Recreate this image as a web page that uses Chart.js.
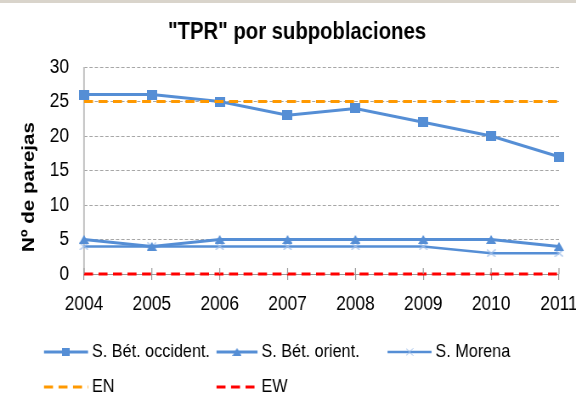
<!DOCTYPE html>
<html>
<head>
<meta charset="utf-8">
<script src="https://cdn.jsdelivr.net/npm/chart.js@4.4.1/dist/chart.umd.min.js"></script>
<style>
html,body{margin:0;padding:0;background:#fff;overflow:hidden;}
#wrap{width:576px;height:403px;position:relative;overflow:hidden;}
#c{width:576px !important;height:403px !important;display:block;}
</style>
</head>
<body>
<div id="wrap"><canvas id="c" width="678" height="403"></canvas></div>
<script>
// ---- data ----
const years = ['2004','2005','2006','2007','2008','2009','2010','2011'];
const betOccident = [26, 26, 25, 23, 24, 22, 20, 17];
const betOrient   = [5, 4, 5, 5, 5, 5, 5, 4];
const sMorena     = [4, 4, 4, 4, 4, 4, 3, 3];
const enLevel     = [25, 25, 25, 25, 25, 25, 25, 25];
const ewLevel     = [0, 0, 0, 0, 0, 0, 0, 0];
const seriesNames = ['S. Bét. occident.', 'S. Bét. orient.', 'S. Morena', 'EN', 'EW'];
const yTicks = [0, 5, 10, 15, 20, 25, 30];
const chartTitle = '"TPR" por subpoblaciones';
const yTitle = 'Nº de parejas';

// The reference's lettering is horizontally condensed: the canvas is drawn 678 wide and shown at 576.
const CW = 678;
const K = 576 / CW;
const X = v => v / K;   // reference px -> canvas units (horizontal only)

const mctx = document.createElement('canvas').getContext('2d');
function textW(font, s) { mctx.font = font; return mctx.measureText(s).width; }
const FAM = "'Liberation Sans', Arial, sans-serif";
function fitSize(weight, text, target) {
  return +(100 * target / textW(weight + ' 100px ' + FAM, text)).toFixed(2);
}
const tickSize = fitSize('normal', '2004', X(38.5));
const legendSize = fitSize('normal', 'S. Bét. occident.', X(118));
const titleSize = fitSize('bold', chartTitle, X(258));
const yTitleSize = fitSize('bold', yTitle, 130);

const BLUE = '#558ED5';
const LIGHTBLUE = '#9CBCE8';

function markerCanvas(w, h, draw) {
  const c = document.createElement('canvas');
  c.width = Math.round(X(w)); c.height = h;
  const g = c.getContext('2d');
  draw(g, c.width, c.height);
  return c;
}
const squareImg = markerCanvas(10, 10, (g, w, h) => { g.fillStyle = BLUE; g.fillRect(0, 0, w, h); });
const triImg = markerCanvas(10, 9, (g, w, h) => {
  g.fillStyle = BLUE; g.beginPath(); g.moveTo(w / 2, 0); g.lineTo(w, h); g.lineTo(0, h); g.closePath(); g.fill();
});
const crossImg = markerCanvas(9, 8, (g, w, h) => {
  g.strokeStyle = LIGHTBLUE; g.lineWidth = 1.2; g.beginPath();
  g.moveTo(0.5, 0.5); g.lineTo(w - 0.5, h - 0.5); g.moveTo(w - 0.5, 0.5); g.lineTo(0.5, h - 0.5); g.stroke();
});
const legSquare = markerCanvas(8, 8, (g, w, h) => { g.fillStyle = BLUE; g.fillRect(0, 0, w, h); });
const legTri = markerCanvas(9, 8, (g, w, h) => {
  g.fillStyle = BLUE; g.beginPath(); g.moveTo(w / 2, 0); g.lineTo(w, h); g.lineTo(0, h); g.closePath(); g.fill();
});
const legCross = markerCanvas(8, 8, (g, w, h) => {
  g.strokeStyle = LIGHTBLUE; g.lineWidth = 1; g.beginPath();
  g.moveTo(0.5, 0.5); g.lineTo(w - 0.5, h - 0.5); g.moveTo(w - 0.5, 0.5); g.lineTo(0.5, h - 0.5); g.stroke();
});

const DASH = [X(9), X(5.5)];
const datasets = [
  {label: seriesNames[0], data: betOccident, borderColor: BLUE, backgroundColor: BLUE, borderWidth: 3,
   pointStyle: squareImg, pointRadius: 6, legendMarker: legSquare, order: 3, clip: false},
  {label: seriesNames[1], data: betOrient, borderColor: BLUE, backgroundColor: BLUE, borderWidth: 3,
   pointStyle: triImg, pointRadius: 6, legendMarker: legTri, order: 4, clip: false},
  {label: seriesNames[2], data: sMorena, borderColor: BLUE, backgroundColor: LIGHTBLUE, borderWidth: 2.5,
   pointStyle: crossImg, pointRadius: 6, legendMarker: legCross, order: 5, clip: false},
  {label: seriesNames[3], data: enLevel, borderColor: '#FF9900', borderWidth: 3, borderDash: DASH,
   pointRadius: 0, order: 2, clip: false},
  {label: seriesNames[4], data: ewLevel, borderColor: '#FF0000', borderWidth: 3, borderDash: DASH,
   pointRadius: 0, order: 1, clip: false}
];

// legend grid (reference px): line start, line length, rows
const legendCols = [44, 216.5, 387.5];
const legendLineLen = [44, 41, 44];
const legendRows = [352, 387];

const extras = {
  id: 'extras',
  beforeDraw(chart) {
    const ctx = chart.ctx;
    ctx.save();
    ctx.fillStyle = '#D9D4CB';
    ctx.fillRect(0, 0, chart.width, 3);
    ctx.fillStyle = '#000';
    ctx.font = 'bold ' + titleSize + 'px ' + FAM;
    ctx.textAlign = 'center';
    ctx.textBaseline = 'middle';
    ctx.fillText(chartTitle, X(297), 32);
    ctx.restore();
  },
  beforeDatasetsDraw(chart) {
    const ctx = chart.ctx;
    const ca = chart.chartArea;
    ctx.save();
    ctx.strokeStyle = '#BFBFBF';
    ctx.lineWidth = X(1.6);
    ctx.beginPath();
    ctx.moveTo(ca.left, ca.top);
    ctx.lineTo(ca.left, ca.bottom);
    ctx.stroke();
    ctx.restore();
  },
  afterDraw(chart) {
    const ctx = chart.ctx;
    const xs = chart.scales.x;
    const ca = chart.chartArea;
    ctx.save();
    ctx.strokeStyle = '#9A9A9A';
    ctx.lineWidth = X(1);
    xs.ticks.forEach((t, i) => {
      const px = xs.getPixelForTick(i);
      ctx.beginPath();
      ctx.moveTo(px, ca.bottom - 6);
      ctx.lineTo(px, ca.bottom);
      ctx.stroke();
    });
    // y axis title
    ctx.fillStyle = '#000';
    ctx.font = 'bold ' + yTitleSize + 'px ' + FAM;
    ctx.textAlign = 'center';
    ctx.textBaseline = 'middle';
    ctx.translate(X(29.5), 187);
    ctx.rotate(-Math.PI / 2);
    ctx.fillText(yTitle, 0, 0);
    ctx.restore();

    // legend in a grid, like the reference
    ctx.save();
    chart.data.datasets.forEach((d, i) => {
      const col = i < 3 ? i : i - 3;
      const row = i < 3 ? 0 : 1;
      const x0 = X(legendCols[col]), y = legendRows[row], len = X(legendLineLen[col]);
      ctx.strokeStyle = d.borderColor;
      ctx.lineWidth = d.borderWidth;
      ctx.setLineDash(d.borderDash || []);
      ctx.beginPath();
      ctx.moveTo(x0, y);
      ctx.lineTo(x0 + len, y);
      ctx.stroke();
      ctx.setLineDash([]);
      if (d.legendMarker) {
        const m = d.legendMarker;
        ctx.drawImage(m, x0 + len / 2 - m.width / 2, y - m.height / 2);
      }
      ctx.fillStyle = '#000';
      ctx.font = legendSize + 'px ' + FAM;
      ctx.textAlign = 'left';
      ctx.textBaseline = 'middle';
      ctx.fillText(d.label, x0 + len + X(4), y);
    });
    ctx.restore();
  }
};

new Chart(document.getElementById('c'), {
  type: 'line',
  data: {labels: years, datasets: datasets},
  options: {
    responsive: false,
    animation: false,
    devicePixelRatio: 1,
    layout: {padding: {left: 0, right: 0, top: 67, bottom: 79}},
    elements: {line: {tension: 0}},
    plugins: {
      legend: {display: false},
      tooltip: {enabled: false},
      title: {display: false}
    },
    scales: {
      x: {
        offset: false,
        grid: {display: true, drawOnChartArea: false, drawTicks: true, tickLength: 6, color: '#9A9A9A', lineWidth: X(1)},
        border: {display: true, color: '#9A9A9A', width: 1},
        ticks: {color: '#000', font: {family: FAM, size: tickSize}, padding: 12, maxRotation: 0, autoSkip: false},
        afterFit(scale) { scale.height = 50; scale.paddingRight = CW - X(559); scale.paddingLeft = 0; }
      },
      y: {
        min: 0, max: 30,
        afterBuildTicks(scale) { scale.ticks = yTicks.map(v => ({value: v})); },
        grid: {color: '#A6A6A6', lineWidth: 1, drawTicks: false},
        border: {display: false, dash: [X(3.3), X(2)]},
        ticks: {color: '#000', font: {family: FAM, size: tickSize}, padding: X(15)},
        afterFit(scale) { scale.width = X(84); scale.paddingTop = 0; scale.paddingBottom = 0; }
      }
    }
  },
  plugins: [extras]
});
</script>
</body>
</html>
